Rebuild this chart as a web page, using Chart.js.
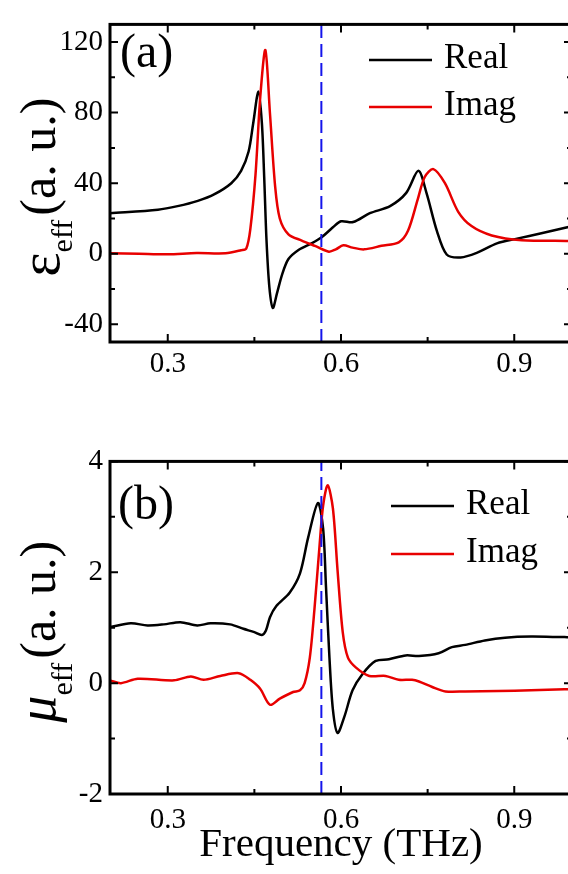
<!DOCTYPE html>
<html lang="en">
<head>
<meta charset="UTF-8">
<title>Effective permittivity and permeability</title>
<script src="https://cdn.jsdelivr.net/npm/chart.js"></script>
<style>
    body { margin: 0; background: #fff; }
    #wrap { position: relative; width: 568px; height: 874px; overflow: hidden; }
    #wrap canvas { position: absolute; left: 0; }
    #chartA { top: 0; }
    #chartB { top: 437px; }
</style>
</head>
<body>
<div id="wrap">
    <canvas id="chartA" width="580" height="400"></canvas>
    <canvas id="chartB" width="580" height="437"></canvas>
</div>
<script>
    // permittivity, real part
    const freqEpsRe = [0.2, 0.283, 0.317, 0.352, 0.381, 0.410, 0.427, 0.440, 0.448, 0.457, 0.463, 0.467, 0.471, 0.476, 0.482,
        0.489, 0.498, 0.509, 0.527, 0.549, 0.567, 0.586, 0.600, 0.621, 0.650, 0.685, 0.713, 0.734, 0.748, 0.766, 0.783,
        0.807, 0.835, 0.870, 0.905, 0.947, 0.992, 1.0];
    const epsRe = [23, 25, 27, 30, 33.8, 40, 47, 58, 74, 92, 74, 43.5, 7.7, -19, -30.7,
        -22.6, -11.8, -3, 2.3, 5.9, 9.5, 15, 18.4, 18, 23, 27, 34.5, 47, 34.5, 13, -0.4,
        -2.1, 0.5, 5.9, 8.6, 11.6, 15, 15.5];

    // permittivity, imaginary part
    const freqEpsIm = [0.2, 0.25, 0.3, 0.35, 0.4, 0.427, 0.436, 0.443, 0.452, 0.460, 0.469, 0.477, 0.486, 0.494, 0.509,
        0.532, 0.556, 0.579, 0.591, 0.604, 0.62, 0.64, 0.67, 0.70, 0.716, 0.733, 0.745, 0.760, 0.780, 0.803, 0.826,
        0.861, 0.913, 0.99, 1.0];
    const epsIm = [0.3, 0, -0.3, 0.4, 0.3, 2, 3, 14, 45, 88, 115.5, 79.5, 38, 20, 11,
        7.5, 4.3, 1.2, 2.5, 4.8, 3.5, 2.5, 4.5, 6.5, 13, 31, 43.5, 48, 40, 23.8, 15.7,
        10.4, 7.7, 7.3, 7.3];

    // permeability, real part
    const freqMuRe = [0.2, 0.236, 0.265, 0.293, 0.322, 0.351, 0.374, 0.408, 0.431, 0.450, 0.463, 0.470, 0.477, 0.488,
        0.511, 0.529, 0.543, 0.560, 0.569, 0.574, 0.580, 0.586, 0.594, 0.606, 0.620, 0.637, 0.660, 0.683, 0.712, 0.735,
        0.769, 0.792, 0.815, 0.849, 0.884, 0.929, 0.987, 1.0];
    const muRe = [1.01, 1.08, 1.04, 1.06, 1.10, 1.04, 1.08, 1.06, 0.98, 0.92, 0.87, 0.95, 1.19, 1.39,
        1.63, 1.98, 2.62, 3.25, 2.79, 1.74, 0.46, -0.48, -0.9, -0.6, -0.13, 0.16, 0.40, 0.43, 0.50, 0.49,
        0.54, 0.65, 0.69, 0.77, 0.82, 0.84, 0.83, 0.83];

    // permeability, imaginary part
    const freqMuIm = [0.2, 0.219, 0.248, 0.311, 0.340, 0.362, 0.391, 0.423, 0.443, 0.460, 0.477, 0.494, 0.517, 0.529,
        0.537, 0.546, 0.554, 0.563, 0.569, 0.577, 0.586, 0.594, 0.603, 0.612, 0.626, 0.649, 0.677, 0.700, 0.723, 0.735,
        0.758, 0.781, 0.815, 0.872, 0.929, 0.987, 1.0];
    const muIm = [0.05, 0.0, 0.08, 0.05, 0.12, 0.06, 0.13, 0.18, 0.06, -0.10, -0.39, -0.28, -0.16, -0.13,
        0.0, 0.46, 1.33, 2.5, 3.2, 3.57, 3.15, 2.04, 0.92, 0.46, 0.28, 0.13, 0.13, 0.06, 0.06, 0.03,
        -0.07, -0.15, -0.15, -0.14, -0.13, -0.11, -0.11];

    const markerFreq = 0.566;   // dashed line

    const freqTicks = [0.3, 0.6, 0.9];
    const freqMinor = [0.45, 0.75];
    const epsTicks = [-40, 0, 40, 80, 120];
    const epsMinor = [-20, 20, 60, 100];
    const muTicks = [-2, 0, 2, 4];
    const muMinor = [-1, 1, 3];

    const SERIF = '"Liberation Serif", "Times New Roman", serif';

    function pts(xs, ys) {
        return xs.map((x, i) => ({x: x, y: ys[i]}));
    }

    // box around the plot with inward ticks on all four sides
    const frame = {
        id: 'frame',
        afterDatasetsDraw(chart, args, o) {
            const ctx = chart.ctx;
            const a = chart.chartArea;
            const sx = chart.scales.x, sy = chart.scales.y;
            ctx.save();
            ctx.strokeStyle = '#000';
            ctx.lineWidth = 2;
            ctx.beginPath();
            const xt = (v, len) => {
                const p = sx.getPixelForValue(v);
                ctx.moveTo(p, a.bottom); ctx.lineTo(p, a.bottom - len);
                ctx.moveTo(p, a.top); ctx.lineTo(p, a.top + len);
            };
            const yt = (v, len) => {
                const p = sy.getPixelForValue(v);
                ctx.moveTo(a.left, p); ctx.lineTo(a.left + len, p);
                ctx.moveTo(a.right, p); ctx.lineTo(a.right - len, p);
            };
            o.xMajor.forEach(v => xt(v, 8));
            o.xMinor.forEach(v => xt(v, 5));
            o.yMajor.forEach(v => yt(v, 8));
            o.yMinor.forEach(v => yt(v, 5));
            ctx.stroke();
            ctx.lineWidth = 3;
            ctx.strokeRect(a.left, a.top, a.right - a.left, a.bottom - a.top);
            ctx.restore();
        }
    };

    // panel tag, legend and the y title with its subscript
    const decor = {
        id: 'decor',
        afterDraw(chart, args, o) {
            const ctx = chart.ctx;
            const a = chart.chartArea;
            ctx.save();
            ctx.fillStyle = '#000';
            ctx.textAlign = 'left';
            ctx.textBaseline = 'alphabetic';

            ctx.font = '48px ' + SERIF;
            ctx.fillText(o.tag, o.tagX, o.tagY);

            o.legend.forEach(it => {
                ctx.strokeStyle = it.color;
                ctx.lineWidth = 2.5;
                ctx.beginPath();
                ctx.moveTo(o.legendX, it.y);
                ctx.lineTo(o.legendX + 63, it.y);
                ctx.stroke();
                ctx.font = '35px ' + SERIF;
                ctx.fillText(it.text, o.legendX + 75, it.y + 8);
            });

            ctx.translate(55, (a.top + a.bottom) / 2 + 4);
            ctx.rotate(-Math.PI / 2);
            ctx.font = o.symbolFont;
            const w1 = ctx.measureText(o.symbol).width;
            ctx.font = '30px ' + SERIF;
            const w2 = ctx.measureText('eff').width;
            ctx.font = '50px ' + SERIF;
            const w3 = ctx.measureText('(a. u.)').width;
            let x0 = -(w1 + w2 + w3 + 4) / 2;
            ctx.font = o.symbolFont;
            ctx.fillText(o.symbol, x0, o.symbolShift);
            ctx.font = '30px ' + SERIF;
            ctx.fillText('eff', x0 + w1, 17);
            ctx.font = '50px ' + SERIF;
            ctx.fillText('(a. u.)', x0 + w1 + w2 + 4, 0);
            ctx.restore();
        }
    };

    function buildChart(id, c) {
        return new Chart(document.getElementById(id), {
            type: 'line',
            data: {
                datasets: [{
                    label: 'marker',
                    data: [{x: markerFreq, y: c.yMin}, {x: markerFreq, y: c.yMax}],
                    borderColor: 'rgb(20,20,235)',
                    borderWidth: 2,
                    borderDash: [13, 6],
                    pointRadius: 0
                }, {
                    label: 'Imag',
                    data: c.imag,
                    borderColor: 'rgb(232,0,0)',
                    borderWidth: 2.5,
                    pointRadius: 0,
                    tension: 0.3
                }, {
                    label: 'Real',
                    data: c.real,
                    borderColor: '#000',
                    borderWidth: 2.5,
                    pointRadius: 0,
                    tension: 0.3
                }]
            },
            options: {
                responsive: false,
                animation: false,
                devicePixelRatio: 1,
                layout: {padding: {top: c.padTop, right: 8, left: 0, bottom: 0}},
                plugins: {
                    legend: {display: false},
                    tooltip: {enabled: false},
                    frame: {xMajor: freqTicks, xMinor: freqMinor, yMajor: c.yTicks, yMinor: c.yMinor},
                    decor: c.decor
                },
                scales: {
                    x: {
                        type: 'linear',
                        min: 0.2,
                        max: 1.0,
                        grid: {display: false, drawTicks: false},
                        border: {display: false},
                        afterBuildTicks: s => { s.ticks = freqTicks.map(v => ({value: v})); },
                        afterFit: s => { s.height = c.xHeight; },
                        ticks: {
                            color: '#000',
                            font: {family: SERIF, size: 29},
                            padding: c.xPad,
                            maxRotation: 0,
                            callback: v => Number(v).toFixed(1)
                        },
                        title: {
                            display: !!c.xTitle,
                            text: c.xTitle || '',
                            color: '#000',
                            font: {family: SERIF, size: 41},
                            padding: {top: 0, bottom: 4}
                        }
                    },
                    y: {
                        min: c.yMin,
                        max: c.yMax,
                        grid: {display: false, drawTicks: false},
                        border: {display: false},
                        afterBuildTicks: s => { s.ticks = c.yTicks.map(v => ({value: v})); },
                        afterFit: s => { s.width = 110; },
                        ticks: {
                            color: '#000',
                            font: {family: SERIF, size: 29},
                            padding: 7,
                            callback: v => String(v)
                        }
                    }
                }
            },
            plugins: [frame, decor]
        });
    }

    buildChart('chartA', {
        real: pts(freqEpsRe, epsRe),
        imag: pts(freqEpsIm, epsIm),
        yMin: -50, yMax: 130,
        yTicks: epsTicks, yMinor: epsMinor,
        padTop: 9, xHeight: 58, xPad: 5,
        decor: {
            tag: '(a)', tagX: 120, tagY: 67,
            legendX: 369,
            legend: [{text: 'Real', color: '#000', y: 60}, {text: 'Imag', color: 'rgb(232,0,0)', y: 107}],
            symbol: 'ε', symbolFont: '58px ' + SERIF, symbolShift: 4
        }
    });

    buildChart('chartB', {
        real: pts(freqMuRe, muRe),
        imag: pts(freqMuIm, muIm),
        yMin: -2, yMax: 4,
        yTicks: muTicks, yMinor: muMinor,
        padTop: 16, xHeight: 80, xPad: 9,
        xTitle: 'Frequency (THz)',
        decor: {
            tag: '(b)', tagX: 118, tagY: 82,
            legendX: 391,
            legend: [{text: 'Real', color: '#000', y: 69}, {text: 'Imag', color: 'rgb(232,0,0)', y: 117}],
            symbol: 'μ', symbolFont: 'italic 54px ' + SERIF, symbolShift: 0
        }
    });
</script>
</body>
</html>
